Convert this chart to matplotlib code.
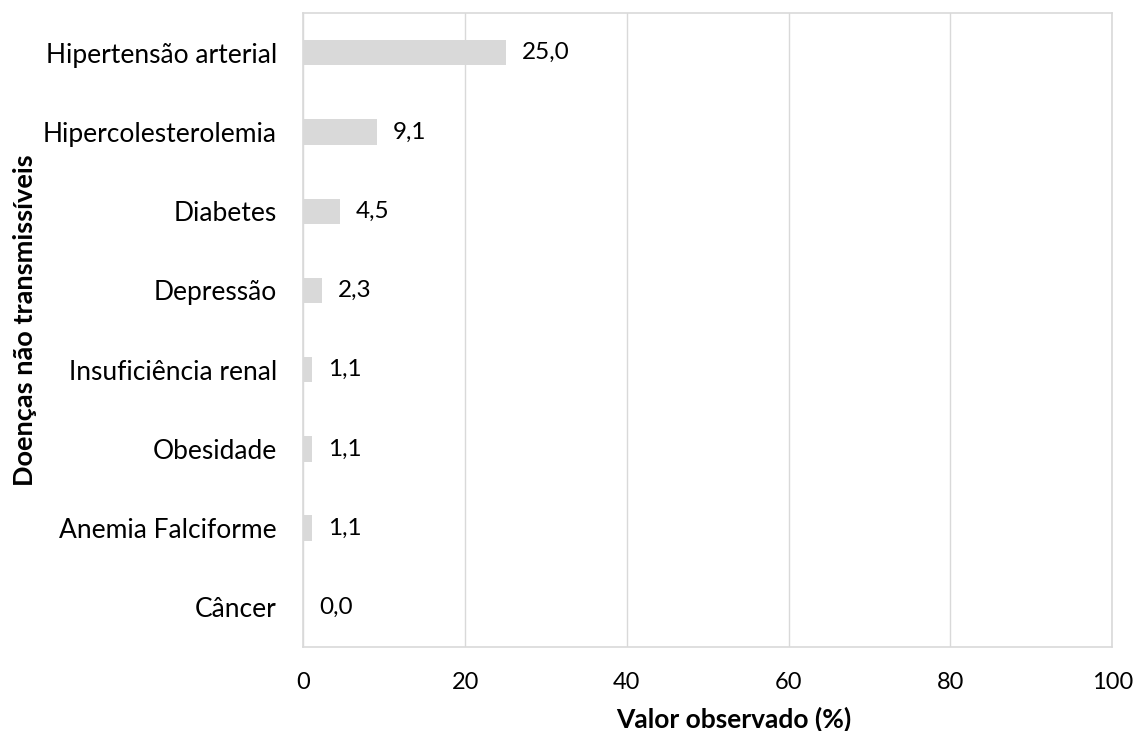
import matplotlib.pyplot as plt

plt.rcParams['font.family'] = ['Lato', 'DejaVu Sans']

doencas = ['Hipertensão arterial', 'Hipercolesterolemia', 'Diabetes', 'Depressão',
           'Insuficiência renal', 'Obesidade', 'Anemia Falciforme', 'Câncer']
valores = [25.0, 9.1, 4.5, 2.3, 1.1, 1.1, 1.1, 0.0]
xticks = [0, 20, 40, 60, 80, 100]

fig = plt.figure(figsize=(11.36, 7.31), dpi=100)
ax = fig.add_axes([0.267, 0.115, 0.712, 0.867])

pos = list(range(len(doencas)))[::-1]
ax.barh(pos, valores, height=0.32, color='#d9d9d9', zorder=2)
for p, v in zip(pos, valores):
    ax.text(v + 2.0, p, f'{v:.1f}'.replace('.', ','), va='center', ha='left', fontsize=17.5)

ax.set_xlim(0, 100)
ax.set_ylim(-0.5, len(doencas) - 0.5)
ax.set_xticks(xticks)
ax.set_yticks(pos)
ax.set_yticklabels(doencas)
ax.tick_params(length=0)
ax.tick_params(axis='y', pad=19, labelsize=19)
ax.tick_params(axis='x', pad=18, labelsize=17)
ax.grid(axis='x', color='#d9d9d9', linewidth=1, zorder=0)
for s in ax.spines.values():
    s.set_color('#d9d9d9')
    s.set_linewidth(1.2)

ax.set_xlabel('Valor observado (%)', fontsize=19, fontweight='bold')
ax.set_ylabel('Doenças não transmissíveis', fontsize=19.5, fontweight='bold')
ax.xaxis.set_label_coords(0.532, -0.094)
ax.yaxis.set_label_coords(-0.329, 0.516)

fig.savefig('out.png', dpi=100)
